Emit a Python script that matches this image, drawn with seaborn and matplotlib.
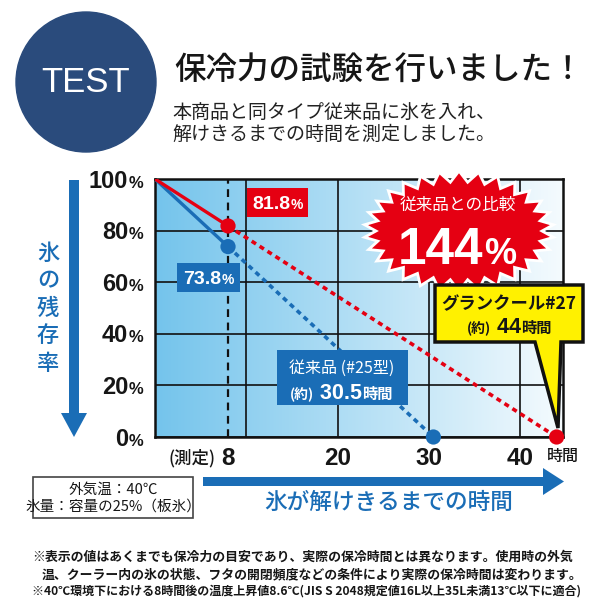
import numpy as np
import matplotlib
matplotlib.use("Agg")
import matplotlib.pyplot as plt
from matplotlib.patches import Circle, Polygon, Rectangle
from matplotlib.colors import LinearSegmentedColormap
import seaborn as sns

# ---- data ----
measure_hours = [0, 8]
product_remaining = [100, 81.8]        # グランクール#27
conventional_remaining = [100, 73.8]   # 従来品 (#25型)
product_melt_hours = 44
conventional_melt_hours = 30.5
comparison_pct = 144
y_ticks = [0, 20, 40, 60, 80, 100]
x_grid = [10, 20, 30, 40]
x_tick_labels = [8, 20, 30, 40]

sns.set_theme(style="white")
JP = ["Noto Sans CJK JP", "DejaVu Sans"]
LAT = ["Liberation Sans", "Noto Sans CJK JP", "DejaVu Sans"]
plt.rcParams["font.family"] = JP

RED = "#e50012"
BLUE = "#1a6db6"
NAVY = "#2a4b7c"
YELLOW = "#fff100"
INK = "#161616"

W = H = 600
fig = plt.figure(figsize=(6, 6), dpi=100)
fig.patch.set_facecolor("white")

# ---- chart area ----
L, R, T, B = 155, 563, 179, 437
XMAX = 44.7
ax = fig.add_axes([L / W, 1 - B / H, (R - L) / W, (B - T) / H])
cmap = LinearSegmentedColormap.from_list("ice", ["#74c4ec", "#f5fbfe"])
ax.imshow(np.linspace(0, 1, 256)[None, :], cmap=cmap, aspect="auto",
          extent=(0, XMAX, 0, 100), zorder=0)
ax.set_xlim(0, XMAX)
ax.set_ylim(0, 100)
ax.set_xticks(x_grid)
ax.set_yticks(y_ticks)
ax.grid(True, color="#111111", lw=1.2)
ax.tick_params(length=0, labelbottom=False, labelleft=False)
for s in ax.spines.values():
    s.set_visible(True)
    s.set_color("#111111")
    s.set_linewidth(1.8)

# measurement time marker
ax.axvline(measure_hours[-1], color="#111111", lw=1.6, ls=(0, (3.5, 2.5)), zorder=2)

dots = (0, (1.4, 1.2))
# conventional model
sns.lineplot(x=measure_hours, y=conventional_remaining, color=BLUE, lw=2.4, ax=ax, zorder=3)
sns.lineplot(x=[measure_hours[-1], conventional_melt_hours], y=[conventional_remaining[-1], 0],
             color=BLUE, lw=2.6, linestyle=dots, ax=ax, zorder=3)
# this product
sns.lineplot(x=measure_hours, y=product_remaining, color=RED, lw=2.4, ax=ax, zorder=3)
sns.lineplot(x=[measure_hours[-1], product_melt_hours], y=[product_remaining[-1], 0],
             color=RED, lw=2.6, linestyle=dots, ax=ax, zorder=3)

sns.scatterplot(x=[measure_hours[-1], conventional_melt_hours], y=[conventional_remaining[-1], 0],
                color=BLUE, s=120, edgecolor="none", ax=ax, zorder=4, clip_on=False)
sns.scatterplot(x=[measure_hours[-1], product_melt_hours], y=[product_remaining[-1], 0],
                color=RED, s=120, edgecolor="none", ax=ax, zorder=4, clip_on=False)

# ---- overlay in pixel coordinates ----
ov = fig.add_axes([0, 0, 1, 1], zorder=5)
ov.set_xlim(0, W)
ov.set_ylim(H, 0)
ov.axis("off")
renderer = fig.canvas.get_renderer()


def to_px(x, y):
    dx, dy = ax.transData.transform((x, y))
    return dx, H - dy


def runs(parts, x, y, ha="center", color=INK, z=7):
    objs = []
    for txt, size, weight, fam in parts:
        objs.append(ov.text(0, y, txt, fontsize=size, fontweight=weight, family=fam,
                            color=color, va="baseline", ha="left", zorder=z))
    widths = [t.get_window_extent(renderer).width for t in objs]
    total = sum(widths)
    start = {"center": x - total / 2, "right": x - total, "left": x}[ha]
    for t, w in zip(objs, widths):
        t.set_x(start)
        start += w
    return objs


# axis tick labels
for v in y_ticks:
    px, py = to_px(0, v)
    runs([(f"{v}", 17, "bold", LAT), ("%", 12, "bold", LAT)], px - 12, py + 8.5, ha="right")
for v in x_tick_labels:
    px, py = to_px(v, 0)
    runs([(f"{v}", 17.5, "bold", LAT)], px, py + 28, ha="center")
px8, py0 = to_px(measure_hours[-1], 0)
runs([("(測定)", 12.5, "medium", JP)], px8 - 13, py0 + 26, ha="right")
pxe, _ = to_px(XMAX, 0)
runs([("時間", 11.5, "medium", JP)], pxe, py0 + 24, ha="center")

# header
ov.add_patch(Circle((86, 82), 70, color=NAVY, zorder=2))
ov.text(86, 82, "TEST", color="white", fontsize=25, family=LAT, ha="center", va="center", zorder=3)
ov.text(174, 70, "保冷力の試験を行いました！", fontsize=22.7, fontweight="medium", color=INK,
        ha="left", va="center")
ov.text(172, 112, "本商品と同タイプ従来品に氷を入れ、", fontsize=13.7, color="#222222", ha="left", va="center")
ov.text(172, 134, "解けきるまでの時間を測定しました。", fontsize=13.7, color="#222222", ha="left", va="center")

# vertical arrow + label
ov.add_patch(Polygon([(69, 180), (79, 180), (79, 413), (87, 413), (74, 437), (61, 413), (69, 413)],
                     closed=True, color=BLUE, lw=0))
for i, ch in enumerate("氷の残存率"):
    ov.text(48, 253 + i * 27.5, ch, fontsize=16, fontweight="medium", color=BLUE, ha="center", va="center")

# horizontal arrow + label
ov.add_patch(Polygon([(203, 477), (543, 477), (543, 468), (564, 481.5), (543, 495), (543, 486), (203, 486)],
                     closed=True, color=BLUE, lw=0))
ov.text(389, 502, "氷が解けきるまでの時間", fontsize=16.3, fontweight="medium", color=BLUE,
        ha="center", va="center")

# test conditions
ov.add_patch(Rectangle((33, 477), 160, 41, fc="white", ec="#444444", lw=1.2))
ov.text(113, 490, "外気温：40℃", fontsize=10.5, color=INK, ha="center", va="center")
ov.text(113, 507, "氷量：容量の25%（板氷）", fontsize=10.5, color=INK, ha="center", va="center")

# value boxes at the measurement point
ov.add_patch(Rectangle((247, 188), 61, 29, color=RED, lw=0))
runs([(f"{product_remaining[-1]}", 14, "bold", LAT), ("%", 10, "bold", LAT)], 277.5, 209, color="white")
ov.add_patch(Rectangle((177, 263), 63, 29, color=BLUE, lw=0))
runs([(f"{conventional_remaining[-1]}", 14, "bold", LAT), ("%", 10, "bold", LAT)], 208.5, 284, color="white")

# conventional model label
ov.add_patch(Rectangle((277, 350), 131, 55, color=BLUE, lw=0))
ov.text(342, 368, "従来品 (#25型)", fontsize=11.5, color="white", ha="center", va="center")
runs([("(約)", 10, "bold", JP), (f" {conventional_melt_hours}", 15.5, "bold", LAT), ("時間", 11, "bold", JP)],
     341, 399, color="white")

# comparison starburst
n = 30
ang = np.linspace(0, 2 * np.pi, 2 * n, endpoint=False) + np.pi / 2
outer = np.arange(2 * n) % 2 == 0
rx = np.where(outer, 95, 83)
ry = np.where(outer, 60, 49)
star = np.c_[459 + rx * np.cos(ang), 231 - ry * np.sin(ang)]
ov.add_patch(Polygon(star, closed=True, fc=RED, ec="white", lw=2, joinstyle="miter", zorder=3))
ov.text(458, 205, "従来品との比較", fontsize=12, color="white", ha="center", va="center", zorder=4)
runs([(f"{comparison_pct}", 37, "bold", LAT), ("%", 26, "bold", LAT)], 457, 264, color="white")

# product callout
callout = [(435, 285), (583, 285), (583, 342), (561, 342), (558, 428), (535, 342), (435, 342)]
ov.add_patch(Polygon(callout, closed=True, fc=YELLOW, ec="#111111", lw=2.5, joinstyle="miter", zorder=3))
ov.text(509, 304.5, "グランクール#27", fontsize=12.5, fontweight="bold", color=INK,
        ha="center", va="center", zorder=4)
runs([("(約)", 10, "bold", JP), (f" {product_melt_hours}", 15.5, "bold", LAT), ("時間", 11, "bold", JP)],
     509, 333, color=INK)

# footnotes, each shrunk if needed to end by x = 581
notes = [
    (32, 557, "※表示の値はあくまでも保冷力の目安であり、実際の保冷時間とは異なります。使用時の外気"),
    (42, 574, "温、クーラー内の氷の状態、フタの開閉頻度などの条件により実際の保冷時間は変わります。"),
    (32, 591, "※40℃環境下における8時間後の温度上昇値8.6℃(JIS S 2048規定値16L以上35L未満13℃以下に適合)"),
]
for x, y, s in notes:
    t = ov.text(x, y, s, fontsize=9.3, fontweight="bold", color=INK, ha="left", va="center")
    w = t.get_window_extent(renderer).width
    if x + w > 581:
        t.set_fontsize(9.3 * (581 - x) / w)

fig.savefig("out.png", dpi=100, facecolor="white")
